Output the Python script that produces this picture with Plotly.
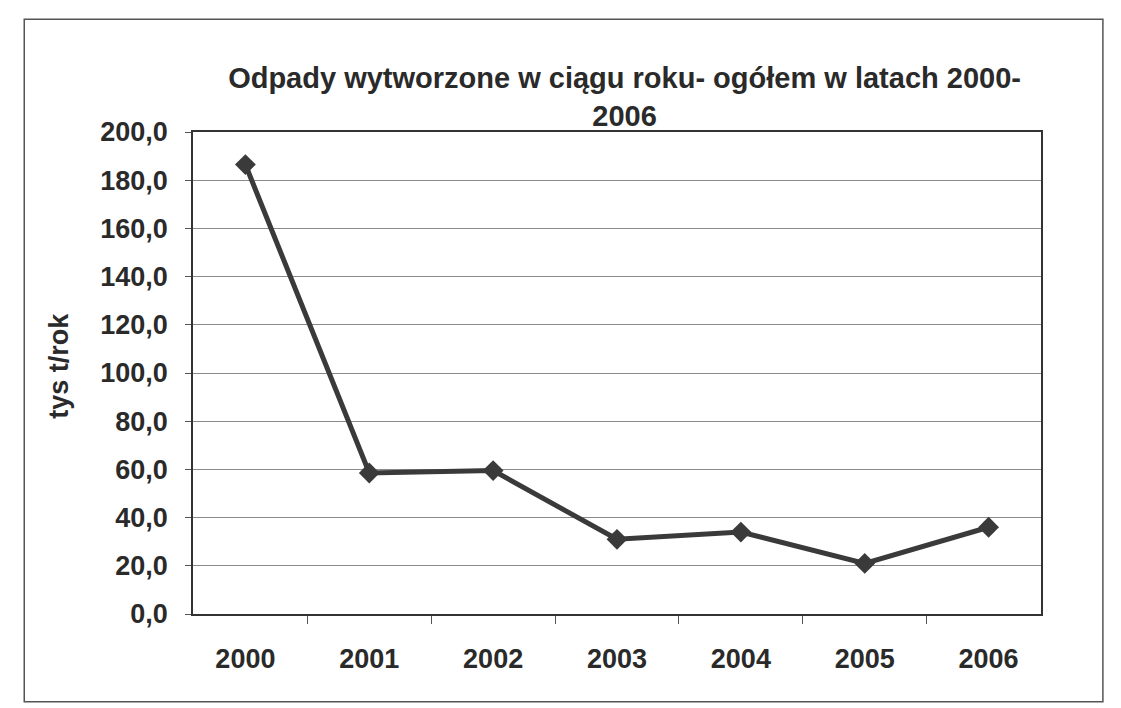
import plotly.graph_objects as go

# Waste generated per year (thousand tonnes)
years = ["2000", "2001", "2002", "2003", "2004", "2005", "2006"]
waste = [186.5, 58.5, 59.5, 31.0, 34.0, 21.0, 36.0]
y_ticks = [0, 20, 40, 60, 80, 100, 120, 140, 160, 180, 200]
y_labels = [f"{v:.1f}".replace(".", ",") for v in y_ticks]

fig = go.Figure()
fig.add_trace(go.Scatter(
    x=years, y=waste,
    mode="lines+markers",
    line=dict(color="#3a3a3a", width=5),
    marker=dict(symbol="diamond", size=16, color="#3a3a3a"),
    showlegend=False,
))

font = "Liberation Sans, Arial, sans-serif"
ink = "#2a2a2a"

fig.update_layout(
    width=1121, height=708,
    paper_bgcolor="white", plot_bgcolor="white",
    margin=dict(l=185, r=88, t=124, b=102),
    title=dict(
        text="<b>Odpady wytworzone w ciągu roku- ogółem w latach 2000-<br>2006</b>",
        x=0.55, xanchor="center", y=0.887, yanchor="middle",
        font=dict(family=font, size=29, color=ink),
    ),
    font=dict(family=font, color=ink),
)

fig.update_xaxes(
    type="category", tickson="boundaries", ticks="outside", ticklen=8,
    tickcolor="#555", showline=True, linecolor="#333", linewidth=1.5,
    mirror=True, showgrid=False,
    tickfont=dict(family=font, size=27, color=ink),
    tickprefix="<b>", ticksuffix="</b>", ticklabelstandoff=20,
)
fig.update_yaxes(
    range=[0, 200], tickvals=y_ticks, ticktext=[f"<b>{t}</b>" for t in y_labels],
    ticks="outside", ticklen=6, tickcolor="#555",
    showline=True, linecolor="#333", linewidth=1.5, mirror=True,
    showgrid=True, gridcolor="#8a8a8a", gridwidth=1.2,
    tickfont=dict(family=font, size=27, color=ink), ticklabelstandoff=12,
)

# y axis title
fig.add_annotation(text="<b>tys t/rok</b>", xref="paper", yref="paper",
                   x=-0.158, y=0.515, xanchor="center", yanchor="middle",
                   textangle=-90, showarrow=False,
                   font=dict(family=font, size=27, color=ink))

# outer chart frame
fig.add_shape(type="rect", xref="paper", yref="paper",
              x0=-0.199, x1=1.073, y0=-0.182, y1=1.234,
              line=dict(color="#555", width=1.5))

fig.write_html("out.html")
